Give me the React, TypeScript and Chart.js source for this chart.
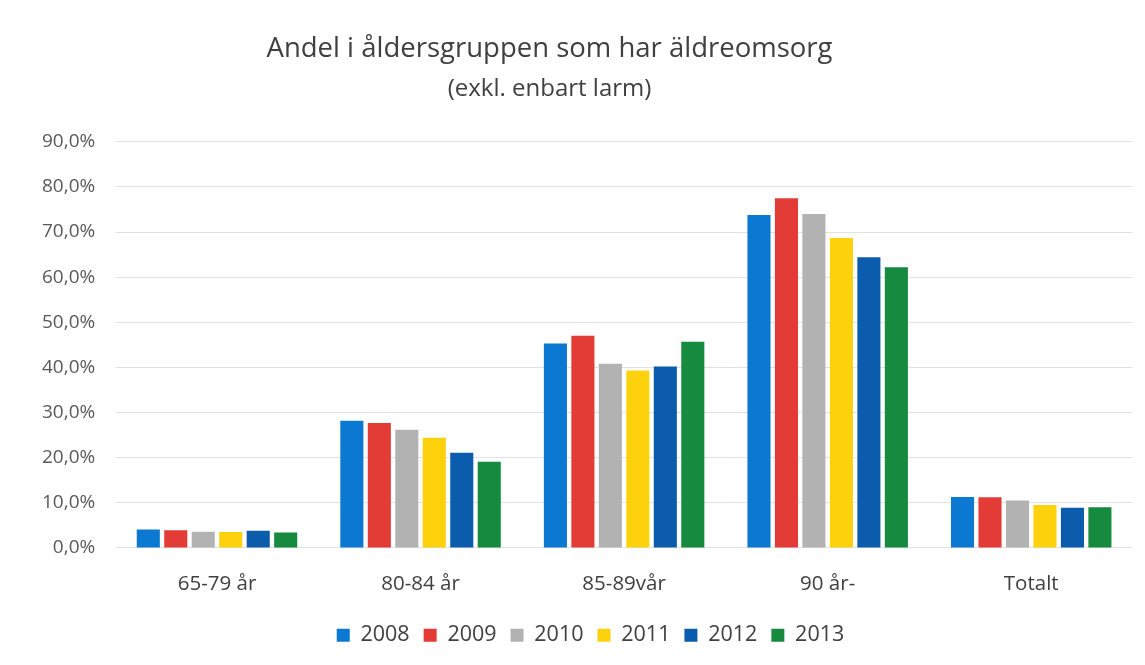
import React, { useEffect, useRef } from "react";
import { Chart, registerables } from "chart.js";

Chart.register(...registerables);

const categories = ["65-79 år", "80-84 år", "85-89vår", "90 år-", "Totalt"];
const years = ["2008", "2009", "2010", "2011", "2012", "2013"];
const v2008 = [4.1, 28.2, 45.3, 73.8, 11.3];
const v2009 = [3.9, 27.7, 47.0, 77.5, 11.2];
const v2010 = [3.6, 26.2, 40.8, 74.0, 10.5];
const v2011 = [3.5, 24.4, 39.3, 68.7, 9.5];
const v2012 = [3.8, 21.1, 40.2, 64.4, 8.9];
const v2013 = [3.4, 19.1, 45.7, 62.2, 9.0];
const yTicks = [0, 10, 20, 30, 40, 50, 60, 70, 80, 90];
const colors = ["#0b79d2", "#e33b36", "#b2b2b2", "#fdd20c", "#0c5cae", "#168a3e"];
const FONT = "'Open Sans', 'Noto Sans', sans-serif";

const shiftBoxes = {
  id: "shiftBoxes",
  afterLayout(chart: any) {
    for (const b of chart.boxes) {
      if (b === chart.legend) {
        b.left += 13;
        b.right += 13;
        b.top -= 2;
        b.bottom -= 2;
      } else if (b.options && typeof b.options.text === "string") {
        b.left -= 28;
        b.right -= 28;
      }
    }
  },
};

export default function App() {
  const ref = useRef<HTMLCanvasElement | null>(null);
  useEffect(() => {
    if (!ref.current) return;
    const series = [v2008, v2009, v2010, v2011, v2012, v2013];
    const chart = new Chart(ref.current, {
      type: "bar",
      data: {
        labels: categories,
        datasets: years.map((y, i) => ({
          label: y,
          data: series[i],
          backgroundColor: colors[i],
          borderWidth: 0,
          categoryPercentage: 0.81,
          barPercentage: 0.84,
        })),
      },
      plugins: [shiftBoxes],
      options: {
        animation: false,
        responsive: false,
        maintainAspectRatio: false,
        layout: { padding: { left: 22, right: 12, top: 0, bottom: 7 } },
        plugins: {
          title: {
            display: true,
            text: "Andel i åldersgruppen som har äldreomsorg",
            color: "#404040",
            font: { family: FONT, size: 27.5, weight: "normal" },
            padding: { top: 33, bottom: 9 },
          },
          subtitle: {
            display: true,
            text: "(exkl. enbart larm)",
            color: "#404040",
            font: { family: FONT, size: 24, weight: "normal" },
            padding: { top: 0, bottom: 38 },
          },
          legend: {
            position: "bottom",
            labels: {
              color: "#404040",
              font: { family: FONT, size: 21.5 },
              boxWidth: 13,
              boxHeight: 13,
              padding: 14,
            },
          },
          tooltip: { enabled: false },
        },
        scales: {
          x: {
            grid: { display: false },
            border: { display: false },
            ticks: { color: "#404040", font: { family: FONT, size: 20.5 }, padding: 16 },
          },
          y: {
            min: 0,
            max: 90,
            afterBuildTicks: (s: any) => {
              s.ticks = yTicks.map((v) => ({ value: v }));
            },
            grid: { color: "#e2e2e2", drawTicks: false },
            border: { display: false },
            ticks: {
              color: "#595959",
              font: { family: FONT, size: 19 },
              padding: 20,
              callback: (v: any) => Number(v).toFixed(1).replace(".", ",") + "%",
            },
          },
        },
      },
    });
    return () => chart.destroy();
  }, []);
  return (
    <div style={{ position: "fixed", left: 0, top: 0, width: 1145, height: 665, background: "#fff" }}>
      <canvas ref={ref} width={1145} height={665} />
    </div>
  );
}
